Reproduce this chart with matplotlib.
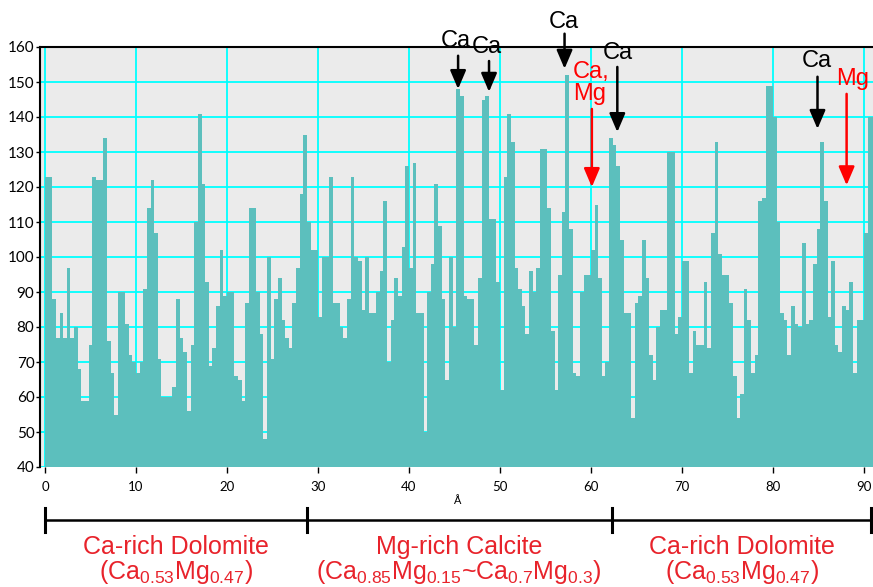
import numpy as np
import matplotlib
matplotlib.use("Agg")
import matplotlib.pyplot as plt

plt.rcParams['font.family'] = ['Liberation Sans', 'DejaVu Sans']
plt.rcParams['mathtext.fontset'] = 'custom'
plt.rcParams['mathtext.rm'] = 'Liberation Sans'

# intensity profile, one bar every 0.4 Å starting at 0
step = 0.4
counts = [
    123, 123, 88, 77, 84, 77, 97, 77, 80, 68,
    59, 59, 75, 123, 122, 122, 134, 76, 67, 55,
    90, 90, 81, 72, 70, 67, 70, 91, 114, 122,
    107, 71, 60, 60, 60, 63, 88, 77, 73, 56,
    75, 110, 141, 121, 93, 69, 74, 86, 102, 89,
    90, 90, 66, 65, 59, 87, 114, 114, 90, 78,
    48, 100, 71, 88, 94, 82, 77, 74, 87, 97,
    118, 135, 110, 102, 102, 83, 100, 100, 123, 87,
    87, 80, 77, 88, 123, 100, 99, 85, 100, 84,
    84, 90, 96, 116, 70, 82, 94, 89, 103, 126,
    97, 127, 84, 84, 50, 90, 98, 121, 109, 88,
    65, 100, 80, 148, 146, 89, 88, 88, 75, 94,
    145, 146, 111, 111, 93, 62, 123, 141, 133, 97,
    91, 86, 78, 96, 90, 97, 131, 131, 114, 79,
    62, 95, 113, 152, 108, 67, 66, 90, 95, 95,
    102, 115, 94, 66, 70, 134, 132, 126, 105, 84,
    84, 54, 87, 89, 105, 94, 72, 65, 80, 85,
    85, 130, 130, 78, 83, 99, 99, 67, 79, 75,
    75, 93, 74, 107, 133, 101, 95, 95, 87, 66,
    54, 61, 91, 82, 67, 72, 116, 117, 149, 149,
    140, 110, 84, 82, 72, 86, 81, 80, 104, 81,
    82, 98, 108, 133, 116, 83, 99, 75, 73, 86,
    85, 93, 67, 82, 82, 107, 140, 140,
]
positions = np.arange(len(counts)) * step

# peak labels: text, arrow x, arrow tip, arrow tail, text x, text y, colour
peak_text = ['Ca', 'Ca', 'Ca', 'Ca,\nMg', 'Ca', 'Ca', 'Mg']
peak_x = [45.4, 48.8, 57.1, 60.1, 62.9, 84.9, 88.1]
peak_tip = [148, 147.2, 153.8, 120, 135.7, 136.6, 120.5]
peak_tail = [157.5, 156, 163.8, 142.3, 154.3, 151.5, 146.6]
text_x = [45.2, 48.6, 57.0, 58.0, 63.0, 84.8, 88.8]
text_y = [161.6, 160.0, 167.2, 149.8, 158.2, 156.0, 150.8]
peak_color = ['black', 'black', 'black', 'red', 'black', 'black', 'red']

# phase segments along the profile
seg_edges = [0, 28.75, 62.3, 90.8]
seg_names = ['Ca-rich Dolomite', 'Mg-rich Calcite', 'Ca-rich Dolomite']
seg_formula = [r'(Ca$\mathregular{_{0.53}}$Mg$\mathregular{_{0.47}}$)',
               r'(Ca$\mathregular{_{0.85}}$Mg$\mathregular{_{0.15}}$~Ca$\mathregular{_{0.7}}$Mg$\mathregular{_{0.3}}$)',
               r'(Ca$\mathregular{_{0.53}}$Mg$\mathregular{_{0.47}}$)']

red = '#e8232b'
teal = '#5cbfbd'

fig = plt.figure(figsize=(8.73, 5.87), dpi=100)
ax = fig.add_axes([40 / 873, 1 - 467 / 587, 833 / 873, 420 / 587])
ax.set_facecolor('#ebebeb')
ax.bar(positions, np.array(counts) - 40, bottom=40, width=step, align='edge',
       color=teal, linewidth=0)
ax.set_xlim(-0.55, 91.0)
ax.set_ylim(40, 160)
ax.set_xticks(np.arange(0, 91, 10))
ax.set_yticks(np.arange(40, 161, 10))
ax.set_axisbelow(True)
ax.grid(True, color='#00ffff', lw=1.3)
ax.tick_params(axis='y', labelsize=11, length=3, width=1, pad=1)
ax.tick_params(axis='x', labelsize=9.5, length=4, width=1, pad=6)
for lab in ax.get_xticklabels() + ax.get_yticklabels():
    lab.set_family(['Lato', 'DejaVu Sans'])
ax.set_xlabel('Å', fontsize=8, labelpad=2)
for side in ['right', 'bottom']:
    ax.spines[side].set_visible(False)
for side in ['left', 'top']:
    ax.spines[side].set_linewidth(1.5)

for t, x, tip, tail, tx, ty, c in zip(peak_text, peak_x, peak_tip, peak_tail,
                                      text_x, text_y, peak_color):
    ax.annotate('', xy=(x, tip), xytext=(x, tail), annotation_clip=False,
                arrowprops=dict(arrowstyle='-|>,head_length=0.75,head_width=0.32',
                                mutation_scale=15, lw=1.8, color=c,
                                shrinkA=0, shrinkB=0))
    if '\n' in t:
        ax.text(tx, ty, t, color=c, fontsize=17, ha='left', va='center',
                linespacing=1.0, clip_on=False)
    else:
        ax.text(tx, ty, t, color=c, fontsize=17, ha='center', va='center',
                clip_on=False)

# bracket under the axis
ax.plot([seg_edges[0], seg_edges[-1]], [24.8, 24.8], color='black', lw=1.8,
        clip_on=False)
for e in seg_edges:
    ax.plot([e, e], [21.4, 28.3], color='black', lw=2.2, clip_on=False)
for i in range(len(seg_names)):
    cx = (seg_edges[i] + seg_edges[i + 1]) / 2
    ax.text(cx, 17.2, seg_names[i], color=red, fontsize=18, ha='center',
            va='center', clip_on=False)
    ax.text(cx, 10.0, seg_formula[i], color=red, fontsize=18, ha='center',
            va='center', clip_on=False)

fig.savefig('out.png', dpi=100)
